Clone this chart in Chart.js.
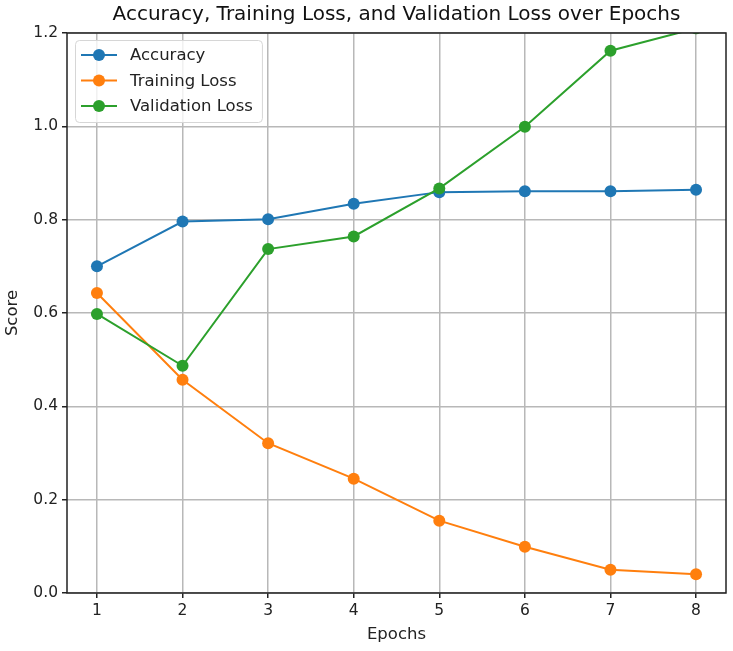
<!DOCTYPE html>
<html>
<head>
<meta charset="utf-8">
<script src="https://cdn.jsdelivr.net/npm/chart.js@4.4.1/dist/chart.umd.min.js"></script>
<style>
  html, body { margin: 0; padding: 0; background: #fff; }
  #wrap { width: 733px; height: 651px; }
</style>
</head>
<body>
<div id="wrap"><canvas id="lossChart"></canvas></div>
<script>
// values
const epochs = [1, 2, 3, 4, 5, 6, 7, 8];
const accuracy = [0.700, 0.796, 0.801, 0.834, 0.859, 0.861, 0.861, 0.864];
const trainingLoss = [0.643, 0.457, 0.321, 0.245, 0.155, 0.099, 0.050, 0.040];
const validationLoss = [0.598, 0.487, 0.737, 0.764, 0.867, 0.999, 1.162, 1.210];
const yTicks = [0, 0.2, 0.4, 0.6, 0.8, 1.0, 1.2];

const seriesNames = ['Accuracy', 'Training Loss', 'Validation Loss'];
const seriesColors = ['#1f77b4', '#ff7f0e', '#2ca02c'];
const seriesValues = [accuracy, trainingLoss, validationLoss];

const FONT = "'DejaVu Sans', sans-serif";

function toPoints(values) {
  return values.map((v, i) => ({ x: epochs[i], y: v }));
}

// full box of spines, like matplotlib
const spines = {
  id: 'spines',
  afterDatasetsDraw(chart) {
    const { ctx, chartArea: a } = chart;
    ctx.save();
    ctx.strokeStyle = '#222';
    ctx.lineWidth = 1.5;
    ctx.strokeRect(a.left, a.top, a.right - a.left, a.bottom - a.top);
    ctx.restore();
  }
};

// legend box inside the plot, top-left
const boxLegend = {
  id: 'boxLegend',
  afterDraw(chart) {
    const { ctx, chartArea: a } = chart;
    ctx.save();
    ctx.font = '16.5px ' + FONT;
    const textW = Math.max(...seriesNames.map(n => ctx.measureText(n).width));
    const x = a.left + 8, y = a.top + 7, w = 56 + textW + 8, h = 82;
    ctx.fillStyle = 'rgba(255,255,255,0.8)';
    ctx.strokeStyle = '#d6d6d6';
    ctx.lineWidth = 1;
    ctx.beginPath();
    ctx.roundRect(x + 0.5, y + 0.5, w, h, 4);
    ctx.fill();
    ctx.stroke();
    ctx.textBaseline = 'middle';
    seriesNames.forEach((name, i) => {
      const cy = y + 15 + i * 25.5;
      ctx.strokeStyle = seriesColors[i];
      ctx.fillStyle = seriesColors[i];
      ctx.lineWidth = 2;
      ctx.beginPath();
      ctx.moveTo(x + 6, cy);
      ctx.lineTo(x + 42, cy);
      ctx.stroke();
      ctx.beginPath();
      ctx.arc(x + 24, cy, 6, 0, Math.PI * 2);
      ctx.fill();
      ctx.fillStyle = '#222';
      ctx.fillText(name, x + 55, cy + 1);
    });
    ctx.restore();
  }
};

const datasets = seriesNames.map((name, i) => ({
  label: name,
  data: toPoints(seriesValues[i]),
  borderColor: seriesColors[i],
  backgroundColor: seriesColors[i],
  borderWidth: 2,
  pointRadius: 6,
  pointHoverRadius: 6,
  pointBorderWidth: 0,
  tension: 0,
  clip: 0,
  order: 3 - i
}));

new Chart(document.getElementById('lossChart'), {
  type: 'line',
  data: { datasets },
  options: {
    responsive: true,
    maintainAspectRatio: false,
    animation: false,
    layout: { padding: { left: 0, right: 7, top: 0, bottom: 0 } },
    plugins: {
      legend: { display: false },
      tooltip: { enabled: false },
      title: {
        display: true,
        text: 'Accuracy, Training Loss, and Validation Loss over Epochs',
        fullSize: false,
        color: '#111',
        font: { family: FONT, size: 20, weight: 'normal' },
        padding: { top: 3, bottom: 6 }
      }
    },
    scales: {
      x: {
        type: 'linear',
        min: 0.65,
        max: 8.35,
        afterBuildTicks: (axis) => { axis.ticks = epochs.map(v => ({ value: v })); },
        afterFit: (axis) => { axis.height = 58; },
        border: { display: false },
        grid: { color: '#b8b8b8', lineWidth: 1.5, tickColor: '#222', tickLength: 5, drawTicks: true },
        ticks: { color: '#222', font: { family: FONT, size: 15.5 }, padding: 4, callback: (v) => String(v) },
        title: { display: true, text: 'Epochs', color: '#222', font: { family: FONT, size: 16.5 }, padding: { top: 0, bottom: 6 } }
      },
      y: {
        min: 0,
        max: 1.2,
        afterBuildTicks: (axis) => { axis.ticks = yTicks.map(v => ({ value: v })); },
        afterFit: (axis) => { axis.width = 67; },
        border: { display: false },
        grid: { color: '#b8b8b8', lineWidth: 1.5, tickColor: '#222', tickLength: 5, drawTicks: true },
        ticks: { color: '#222', font: { family: FONT, size: 15.5 }, padding: 4, callback: (v) => v.toFixed(1) },
        title: { display: true, text: 'Score', color: '#222', font: { family: FONT, size: 16.5 }, padding: { top: 3, bottom: 0 } }
      }
    }
  },
  plugins: [spines, boxLegend]
});
</script>
</body>
</html>
